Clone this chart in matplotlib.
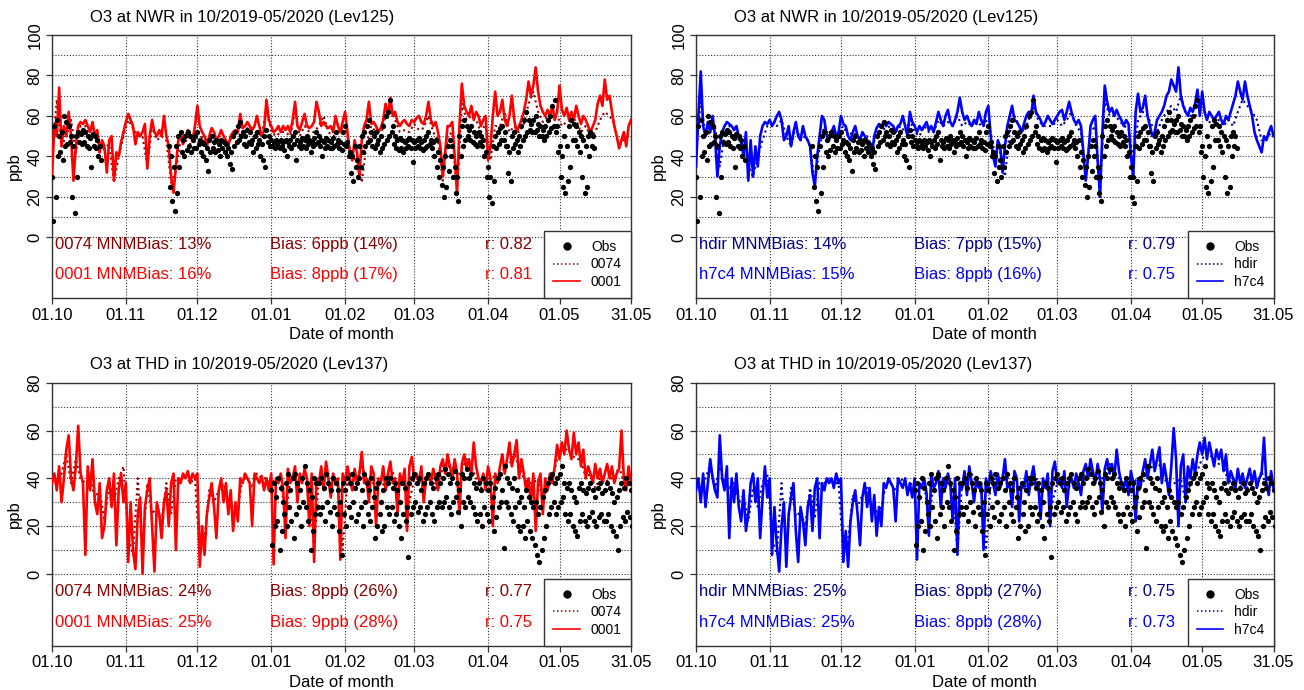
import numpy as np
import pandas as pd
import matplotlib
matplotlib.use('Agg')
import matplotlib.pyplot as plt
from matplotlib.lines import Line2D

plt.rcParams['font.family'] = ['Liberation Sans', 'DejaVu Sans']

# time axes (daily values, dotted runs every 2 days)
days = pd.date_range('2019-10-01', '2020-05-31', freq='D')
days2 = pd.date_range('2019-10-01', periods=122, freq='2D')
tick_dates = pd.to_datetime(['2019-10-01', '2019-11-01', '2019-12-01', '2020-01-01', '2020-02-01',
                             '2020-03-01', '2020-04-01', '2020-05-01', '2020-05-31'])
tick_labels = ['01.10', '01.11', '01.12', '01.01', '01.02', '01.03', '01.04', '01.05', '31.05']

# ---- NWR (Lev125) ----
nwr_obs_hi = [30, 55, 58, 50, 52, 60, 57, 55, 50, 45, 50, 52, 51, 53, 52, 50, 49, 51, 50, 48,
              45] + [None] * 28 + [
              45, 40, 35, 45, 50, 52, 48, 50, 52, 50, 48, 50, 52, 48, 47, 46, 44, 48, 50, 47,
              48, 46, 48, 47, 46, 44, 42, 50, 52, 55, 57, 52, 50, 53, 52, 48, 50, 52, 48, 46,
              50, 53, 50, 48, 47, 48, 47, 48, 47, 48, 47, 48, 50, 52, 48, 47, 49, 48, 50, 48,
              47, 49, 52, 50, 48, 47, 49, 48, 47, 49, 52, 48, 47, 52, 55, 47, 42, 40, 45, 38,
              45, 50, 52, 55, 58, 52, 50, 52, 48, 50, 55, 60, 62, 68, 55, 50, 48, 49, 48, 47,
              48, 49, 48, 47, 48, 49, 47, 48, 50, 52, 48, 47, 48, 42, 38, 35, 40, 45, 48, 45,
              35, 30, 50, 55, 58, 55, 53, 55, 52, 50, 52, 50, 48, 42, 35, 30, 45, 50, 52, 54,
              55, 52, 45, 42, 50, 52, 48, 50, 55, 58, 62, 58, 56, 58, 60, 56, 55, 53, 55, 58,
              60, 65, 68, 55, 45, 40, 50, 45, 55, 58, 56, 55, 52, 50, 48, 45, 50, 52, 50] + [None] * 16
nwr_obs_lo = [8, 20, 40, 42, 38, 45, 46, 47, 20, 12, 30, 47, 46, 47, 45, 44, 35, 45, 44, 40,
              38] + [None] * 28 + [
              25, 18, 13, 22, 35, 42, 40, 43, 45, 42, 44, 44, 46, 42, 40, 38, 33, 42, 44, 42,
              43, 40, 44, 42, 40, 36, 34, 45, 47, 48, 50, 46, 45, 47, 46, 42, 44, 46, 40, 38,
              35, 47, 45, 45, 44, 45, 44, 45, 43, 40, 45, 44, 46, 38, 45, 44, 45, 44, 46, 42,
              45, 46, 47, 45, 40, 44, 45, 44, 44, 45, 46, 44, 43, 46, 45, 40, 32, 28, 35, 30,
              35, 42, 45, 47, 48, 45, 44, 46, 42, 44, 46, 48, 50, 52, 46, 44, 43, 44, 42, 44,
              45, 44, 37, 44, 45, 44, 43, 44, 45, 46, 44, 40, 35, 30, 26, 20, 25, 33, 40, 30,
              22, 18, 40, 45, 48, 50, 48, 47, 46, 45, 47, 45, 40, 30, 20, 17, 28, 44, 46, 48,
              48, 45, 32, 28, 44, 46, 42, 45, 48, 50, 52, 53, 52, 52, 53, 50, 50, 48, 50, 52,
              54, 55, 52, 42, 30, 25, 22, 28, 35, 48, 48, 45, 42, 30, 22, 25, 40, 45, 44] + [None] * 16

nwr_0001 = [30, 55, 50, 74, 45, 55, 50, 62, 50, 28, 45, 55, 57, 56, 58, 55, 52, 57, 50, 53,
            42, 48, 45, 32, 48, 50, 28, 42, 40, 47, 52, 57, 61, 58, 55, 46, 52, 50, 52, 56,
            34, 50, 58, 52, 50, 53, 50, 60, 50, 45, 30, 22, 35, 48, 52, 46, 50, 53, 50, 48,
            55, 65, 55, 52, 50, 45, 50, 54, 52, 48, 50, 53, 50, 48, 45, 50, 52, 53, 52, 61,
            54, 55, 57, 55, 53, 55, 60, 55, 50, 53, 68, 58, 55, 52, 53, 55, 52, 55, 53, 55,
            52, 58, 67, 55, 53, 57, 61, 55, 54, 55, 57, 67, 62, 55, 57, 55, 54, 55, 52, 60,
            55, 52, 57, 62, 52, 42, 38, 48, 42, 30, 48, 55, 58, 67, 56, 57, 55, 52, 54, 58,
            66, 60, 69, 60, 62, 57, 55, 57, 58, 56, 55, 58, 57, 59, 60, 57, 56, 60, 67, 58,
            55, 57, 52, 45, 30, 42, 55, 55, 57, 40, 22, 55, 76, 65, 62, 60, 65, 58, 62, 60,
            55, 58, 60, 38, 45, 60, 72, 60, 62, 68, 58, 55, 60, 70, 58, 52, 55, 58, 62, 68,
            77, 70, 75, 84, 72, 65, 62, 60, 63, 60, 65, 58, 62, 75, 63, 60, 64, 58, 62, 58,
            65, 60, 56, 60, 58, 55, 52, 55, 58, 66, 70, 65, 78, 68, 70, 62, 55, 50, 44, 48,
            52, 45, 55, 58]
nwr_0074 = [40, 68, 45, 50, 58, 42, 55, 55, 50, 50, 42, 44, 46, 27, 40, 50, 58, 54, 50, 50,
            35, 55, 48, 50, 48, 27, 33, 48, 48, 46, 52, 50, 49, 47, 50, 50, 47, 47, 50, 50,
            52, 54, 51, 52, 50, 64, 52, 50, 52, 52, 50, 62, 50, 55, 52, 52, 55, 60, 52, 50,
            52, 54, 50, 38, 40, 27, 46, 55, 52, 50, 60, 64, 58, 52, 53, 52, 56, 53, 54, 60,
            52, 48, 28, 50, 52, 22, 66, 58, 60, 58, 52, 56, 38, 55, 55, 62, 52, 55, 52, 56,
            66, 72, 62, 57, 60, 60, 60, 55, 57, 58, 58, 52, 55, 50, 52, 58, 62, 60, 56, 45,
            48, 50]
nwr_h7c4 = [35, 60, 82, 55, 50, 57, 52, 60, 50, 30, 45, 52, 55, 57, 56, 55, 53, 55, 50, 48,
            40, 52, 28, 48, 30, 45, 35, 50, 55, 57, 56, 58, 55, 57, 60, 62, 58, 48, 50, 55,
            45, 52, 57, 50, 48, 55, 50, 48, 45, 32, 25, 40, 50, 60, 58, 50, 48, 52, 55, 50,
            52, 60, 56, 55, 50, 48, 52, 55, 50, 48, 52, 50, 48, 45, 40, 50, 54, 56, 55, 57,
            55, 57, 56, 55, 52, 55, 56, 60, 55, 50, 62, 57, 55, 52, 55, 53, 55, 57, 53, 55,
            52, 57, 62, 58, 55, 60, 63, 57, 55, 58, 62, 69, 62, 58, 60, 57, 55, 58, 56, 62,
            58, 55, 62, 65, 50, 40, 35, 48, 45, 32, 45, 55, 60, 65, 58, 57, 55, 52, 56, 60,
            62, 60, 70, 62, 60, 58, 55, 57, 60, 58, 56, 58, 60, 62, 63, 58, 62, 67, 62, 58,
            56, 58, 55, 42, 28, 40, 55, 58, 60, 38, 20, 52, 75, 67, 62, 64, 60, 63, 60, 58,
            55, 58, 56, 40, 30, 62, 71, 62, 64, 70, 60, 55, 50, 52, 58, 60, 62, 65, 70, 72,
            78, 75, 72, 84, 70, 65, 62, 60, 64, 62, 66, 73, 60, 72, 62, 58, 62, 60, 58, 60,
            62, 58, 56, 60, 58, 62, 66, 70, 77, 72, 68, 77, 70, 65, 60, 52, 48, 45, 42, 50,
            48, 52, 55, 50]
nwr_hdir = [40, 68, 50, 52, 55, 35, 50, 55, 53, 48, 42, 35, 30, 40, 48, 55, 58, 55, 58, 50,
            45, 55, 48, 50, 45, 27, 45, 55, 50, 52, 52, 55, 50, 52, 50, 48, 50, 45, 50, 53,
            54, 55, 52, 55, 52, 58, 52, 50, 55, 52, 52, 58, 55, 57, 55, 60, 55, 57, 55, 58,
            55, 58, 52, 40, 42, 30, 52, 60, 55, 52, 58, 65, 58, 55, 55, 55, 58, 55, 58, 62,
            55, 52, 30, 52, 55, 22, 68, 60, 60, 58, 55, 54, 38, 58, 62, 60, 55, 52, 58, 62,
            65, 62, 70, 62, 60, 60, 62, 62, 57, 56, 58, 55, 58, 55, 62, 68, 65, 62, 58, 48,
            48, 52]

# ---- THD (Lev137) ----
thd_obs_hi = [35, 38, 32, 40, 36, 30, 38, 42, 35, 40, 42, 38, 35, 40, 45, 38, 35, 32, 40, 38,
              38, 40, 36, 42, 38, 35, 40, 38, 35, 30, 38, 35, 40, 38, 42, 36, 38, 40, 35, 42,
              38, 35, 40, 32, 36, 38, 30, 35, 40, 38, 40, 36, 38, 35, 30, 38, 36, 28, 38, 40,
              42, 38, 40, 35, 38, 40, 42, 38, 36, 40, 42, 38, 40, 44, 42, 38, 40, 43, 38, 35,
              42, 40, 44, 40, 42, 38, 36, 38, 35, 40, 38, 35, 38, 32, 36, 40, 42, 35, 45, 40,
              38, 36, 40, 35, 30, 32, 28, 35, 32, 30, 28, 30, 25, 28, 32, 35, 38, 40, 42, 38,
              40, 42, 45, 38, 36, 38, 35, 32, 30, 36, 38, 35, 34, 36, 38, 35, 32, 36, 38, 34,
              35, 38, 36, 34, 30, 32, 35, 38, 36, 40, 38, 35]
thd_obs_lo = [12, 20, 22, 10, 18, 25, 20, 28, 22, 15, 25, 28, 20, 30, 28, 22, 10, 18, 25, 28,
              25, 28, 22, 30, 26, 20, 28, 25, 18, 8, 25, 20, 28, 24, 30, 22, 25, 28, 20, 30,
              25, 22, 28, 15, 20, 25, 18, 20, 28, 25, 28, 22, 25, 20, 15, 25, 22, 7, 25, 28,
              30, 26, 28, 22, 25, 28, 30, 25, 22, 28, 30, 28, 30, 32, 28, 25, 30, 32, 26, 20,
              30, 28, 32, 30, 28, 25, 22, 25, 20, 28, 25, 22, 28, 18, 24, 28, 30, 11, 30, 28,
              25, 22, 28, 20, 18, 20, 15, 22, 18, 15, 12, 8, 5, 10, 15, 20, 25, 28, 30, 25,
              28, 30, 32, 25, 22, 25, 20, 18, 16, 22, 25, 22, 20, 24, 26, 22, 20, 24, 25, 22,
              22, 25, 20, 18, 16, 10, 20, 24, 22, 26, 24, 20]

thd_0001 = [38, 42, 35, 45, 30, 40, 52, 58, 40, 35, 45, 62, 42, 38, 8, 45, 35, 48, 30, 25,
            38, 15, 20, 35, 40, 28, 42, 12, 35, 42, 30, 38, 5, 30, 10, 2, 25, 32, 0, 28,
            35, 40, 20, 1, 30, 25, 15, 30, 35, 20, 38, 42, 10, 40, 38, 42, 40, 43, 38, 42,
            40, 42, 3, 20, 8, 25, 32, 38, 28, 15, 35, 40, 30, 38, 25, 35, 18, 30, 22, 40,
            38, 42, 40, 38, 20, 42, 40, 38, 41, 35, 40, 35, 42, 4, 40, 38, 42, 36, 15, 44,
            38, 40, 45, 30, 42, 38, 44, 40, 20, 42, 5, 40, 38, 45, 35, 47, 40, 32, 42, 38,
            40, 6, 42, 38, 45, 40, 35, 44, 38, 42, 51, 38, 40, 30, 45, 42, 20, 40, 38, 45,
            35, 42, 47, 38, 40, 25, 42, 38, 44, 18, 45, 49, 40, 42, 38, 45, 30, 40, 42, 38,
            44, 40, 35, 45, 48, 42, 50, 45, 40, 48, 42, 25, 46, 50, 44, 48, 42, 55, 45, 40,
            38, 42, 35, 45, 40, 20, 42, 38, 45, 50, 42, 48, 55, 45, 50, 56, 40, 48, 42, 35,
            40, 30, 42, 18, 38, 42, 25, 40, 35, 42, 38, 45, 54, 48, 55, 50, 60, 52, 48, 59,
            50, 55, 45, 52, 40, 45, 42, 38, 46, 40, 44, 38, 42, 46, 40, 45, 38, 42, 44, 60,
            40, 35, 45, 38]
thd_0074 = [40, 38, 42, 50, 38, 48, 40, 38, 40, 32, 35, 22, 38, 30, 40, 45, 15, 8, 40, 10,
            38, 25, 28, 22, 38, 25, 40, 40, 42, 38, 40, 8, 15, 35, 30, 35, 38, 30, 28, 28,
            40, 40, 36, 42, 40, 40, 38, 40, 40, 22, 40, 42, 40, 40, 38, 10, 40, 40, 42, 40,
            38, 10, 40, 42, 40, 45, 40, 38, 38, 40, 35, 45, 40, 38, 40, 30, 40, 40, 35, 40,
            40, 35, 45, 45, 45, 40, 44, 48, 45, 40, 36, 38, 42, 40, 40, 45, 46, 50, 45, 40,
            38, 38, 40, 30, 40, 40, 48, 52, 52, 50, 48, 48, 40, 42, 36, 40, 38, 40, 40, 45,
            38, 40]
thd_h7c4 = [35, 40, 30, 42, 28, 38, 48, 40, 35, 32, 58, 40, 35, 45, 15, 40, 30, 42, 28, 22,
            35, 18, 25, 38, 42, 30, 40, 15, 32, 45, 32, 40, 8, 28, 12, 1, 20, 30, 3, 25,
            32, 38, 18, 5, 28, 22, 12, 28, 33, 18, 36, 40, 15, 38, 35, 40, 38, 40, 36, 42,
            38, 40, 5, 18, 3, 22, 30, 35, 25, 12, 32, 38, 28, 36, 22, 33, 16, 28, 20, 38,
            36, 40, 38, 36, 22, 40, 38, 36, 40, 33, 38, 32, 40, 6, 38, 36, 40, 34, 16, 42,
            36, 38, 43, 28, 40, 36, 42, 38, 22, 40, 8, 38, 36, 43, 33, 45, 38, 30, 40, 36,
            38, 10, 40, 36, 43, 38, 33, 42, 36, 40, 48, 36, 38, 28, 43, 40, 22, 38, 36, 43,
            33, 40, 45, 36, 38, 23, 40, 36, 42, 20, 43, 47, 38, 40, 36, 43, 28, 38, 40, 36,
            42, 38, 33, 43, 46, 40, 48, 43, 38, 46, 40, 26, 44, 48, 42, 46, 40, 52, 43, 38,
            36, 40, 33, 43, 38, 22, 40, 36, 43, 48, 40, 46, 52, 43, 48, 53, 38, 46, 40, 33,
            45, 61, 48, 20, 45, 50, 30, 45, 40, 48, 42, 50, 55, 50, 57, 48, 55, 50, 45, 52,
            48, 52, 43, 50, 38, 43, 40, 36, 44, 38, 42, 36, 40, 44, 38, 43, 36, 40, 42, 57,
            38, 33, 43, 36]
thd_hdir = [38, 36, 40, 46, 36, 45, 38, 36, 38, 30, 33, 22, 36, 28, 38, 42, 15, 8, 38, 10,
            36, 24, 26, 20, 36, 24, 38, 38, 40, 38, 38, 8, 14, 33, 28, 33, 36, 28, 26, 28,
            38, 38, 35, 40, 38, 38, 36, 38, 38, 22, 38, 42, 38, 38, 36, 10, 38, 40, 42, 38,
            36, 10, 38, 40, 40, 43, 38, 36, 36, 38, 34, 43, 38, 36, 38, 30, 38, 40, 35, 38,
            38, 35, 43, 43, 43, 38, 42, 46, 43, 40, 35, 36, 40, 38, 38, 43, 45, 48, 43, 38,
            38, 38, 40, 30, 38, 40, 46, 50, 50, 48, 46, 46, 38, 40, 35, 38, 36, 38, 38, 43,
            36, 38]

stats_nwr_red = [('0074 MNMBias: 13%', 'Bias: 6ppb (14%)', 'r: 0.82'),
                 ('0001 MNMBias: 16%', 'Bias: 8ppb (17%)', 'r: 0.81')]
stats_nwr_blue = [('hdir MNMBias: 14%', 'Bias: 7ppb (15%)', 'r: 0.79'),
                  ('h7c4 MNMBias: 15%', 'Bias: 8ppb (16%)', 'r: 0.75')]
stats_thd_red = [('0074 MNMBias: 24%', 'Bias: 8ppb (26%)', 'r: 0.77'),
                 ('0001 MNMBias: 25%', 'Bias: 9ppb (28%)', 'r: 0.75')]
stats_thd_blue = [('hdir MNMBias: 25%', 'Bias: 8ppb (27%)', 'r: 0.75'),
                  ('h7c4 MNMBias: 25%', 'Bias: 8ppb (28%)', 'r: 0.73')]

DOT = (0, (1, 1.6))
HALF_DAY = pd.Timedelta(hours=12)


def draw_panel(ax, title, ymax, obs_days, obs_hi, obs_lo, dotted, solid, names, colors, stats):
    ax.set_xlim(days[0], days[-1])
    ax.set_ylim(-30, ymax)
    # grid
    for v in range(0, ymax + 1, 10):
        ax.axhline(v, color='#333333', lw=0.8, ls=DOT, zorder=0)
    for d in tick_dates:
        ax.axvline(d, color='#333333', lw=0.8, ls=DOT, zorder=0)

    ax.plot(days2, dotted, color=colors[0], lw=1.5, ls=DOT, zorder=2)
    ax.plot(days, solid, color=colors[1], lw=1.9, zorder=3)
    ax.plot(obs_days, np.array(obs_hi, dtype=float), 'o', color='black', ms=3.8, mew=0, zorder=4)
    ax.plot(obs_days + HALF_DAY, np.array(obs_lo, dtype=float), 'o', color='black', ms=3.8,
            mew=0, zorder=4)

    ax.set_xticks(tick_dates)
    ax.set_xticklabels(tick_labels)
    ax.set_yticks(range(0, ymax + 1, 20))
    ax.tick_params(axis='both', length=4, width=0.9, labelsize=12, pad=3, color='#333333')
    for lab in ax.get_yticklabels():
        lab.set_rotation(90)
        lab.set_va('center')
    ax.set_xlabel('Date of month', fontsize=12, labelpad=3)
    ax.set_ylabel('ppb', fontsize=12, labelpad=4)
    for sp in ax.spines.values():
        sp.set_color('#333333')
        sp.set_linewidth(1.0)

    ax.text(0.066, 1.068, title, transform=ax.transAxes, fontsize=12, ha='left', va='center')

    for row, yy in zip(range(2), (0.205, 0.088)):
        for txt, xx in zip(stats[row], (0.005, 0.377, 0.748)):
            ax.text(xx, yy, txt, transform=ax.transAxes, color=colors[row], fontsize=12,
                    ha='left', va='center', zorder=5)

    handles = [Line2D([], [], marker='o', color='black', ls='none', ms=5),
               Line2D([], [], color=colors[0], ls=DOT, lw=1.1),
               Line2D([], [], color=colors[1], lw=1.2)]
    leg = ax.legend(handles, ['Obs'] + names, loc='lower right', bbox_to_anchor=(1, 0),
                    borderaxespad=0, fancybox=False, framealpha=1, edgecolor='#333333',
                    fontsize=10, handlelength=1.9, handletextpad=0.8, labelspacing=0.25,
                    borderpad=0.65)
    leg.get_frame().set_linewidth(1.0)
    leg.set_zorder(6)


fig = plt.figure(figsize=(13.04, 6.9), dpi=100)
W, H = 1304, 690
ax_tl = fig.add_axes([52 / W, 1 - 298 / H, 579 / W, 263 / H])
ax_tr = fig.add_axes([696 / W, 1 - 298 / H, 577.5 / W, 263 / H])
ax_bl = fig.add_axes([52 / W, 1 - 645.7 / H, 579 / W, 263 / H])
ax_br = fig.add_axes([696 / W, 1 - 645.7 / H, 577.5 / W, 263 / H])

red = ['#8B0000', '#FF0000']
blue = ['#00008B', '#0000FF']
thd_days = days[92:]

draw_panel(ax_tl, 'O3 at NWR in 10/2019-05/2020 (Lev125)', 100, days, nwr_obs_hi, nwr_obs_lo,
           nwr_0074, nwr_0001, ['0074', '0001'], red, stats_nwr_red)
draw_panel(ax_tr, 'O3 at NWR in 10/2019-05/2020 (Lev125)', 100, days, nwr_obs_hi, nwr_obs_lo,
           nwr_hdir, nwr_h7c4, ['hdir', 'h7c4'], blue, stats_nwr_blue)
draw_panel(ax_bl, 'O3 at THD in 10/2019-05/2020 (Lev137)', 80, thd_days, thd_obs_hi, thd_obs_lo,
           thd_0074, thd_0001, ['0074', '0001'], red, stats_thd_red)
draw_panel(ax_br, 'O3 at THD in 10/2019-05/2020 (Lev137)', 80, thd_days, thd_obs_hi, thd_obs_lo,
           thd_hdir, thd_h7c4, ['hdir', 'h7c4'], blue, stats_thd_blue)

fig.savefig('out.png', dpi=100)
